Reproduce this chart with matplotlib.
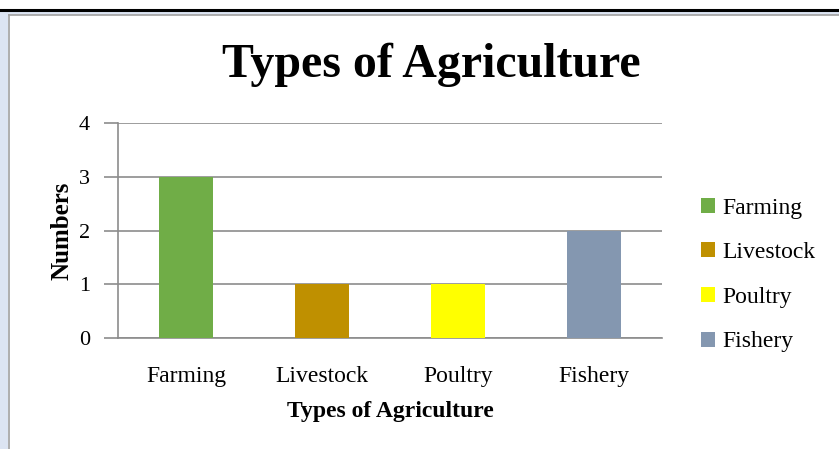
import numpy as np
from matplotlib import pyplot as plt
from matplotlib.patches import Rectangle, Patch

categories = ["Farming", "Livestock", "Poultry", "Fishery"]
values = [3, 1, 1, 2]
colors = ["#70AD47", "#BF9000", "#FFFF00", "#8497B0"]
y_ticks = [0, 1, 2, 3, 4]

plt.rcParams['font.family'] = ['Liberation Serif', 'DejaVu Serif']

fig = plt.figure(figsize=(8.39, 4.49), dpi=100)
fig.patch.set_facecolor("white")

# window frame bits around the chart
fig.patches.append(Rectangle((0, 0), 8 / 839, 1 - 12 / 449, transform=fig.transFigure,
                             facecolor="#DCE4F2", edgecolor="none", zorder=0))
fig.patches.append(Rectangle((0, 1 - 15 / 449), 1, 4 / 449, transform=fig.transFigure,
                             facecolor="#DCE4F2", edgecolor="none", zorder=0))
fig.lines.append(plt.Line2D([0, 1], [1 - 10 / 449, 1 - 10 / 449], transform=fig.transFigure,
                            color="black", lw=2.2))
fig.lines.append(plt.Line2D([9 / 839, 1], [1 - 15 / 449, 1 - 15 / 449], transform=fig.transFigure,
                            color="#A0A0A0", lw=1.2))
fig.lines.append(plt.Line2D([9 / 839, 9 / 839], [0, 1 - 15 / 449], transform=fig.transFigure,
                            color="#A0A0A0", lw=1.2))

ax = fig.add_axes([118 / 839, 111 / 449, 544 / 839, 215 / 449])
x = np.arange(len(categories))
ax.bar(x, values, width=0.4, color=colors, zorder=3)

ax.set_xlim(-0.5, len(categories) - 0.5)
ax.set_ylim(0, 4)
ax.set_yticks(y_ticks)
ax.set_yticklabels([str(v) for v in y_ticks], fontsize=16)
ax.set_xticks(x)
ax.set_xticklabels(categories, fontsize=17)
ax.tick_params(axis="x", length=0, pad=20)
ax.tick_params(axis="y", length=10, width=1.2, color="#8C8C8C", pad=10)
ax.grid(axis="y", color="#8C8C8C", lw=1.2, zorder=0)
for side in ["top", "right"]:
    ax.spines[side].set_visible(False)
ax.spines["left"].set_color("#8C8C8C")
ax.spines["left"].set_linewidth(1.2)
ax.spines["bottom"].set_color("#8C8C8C")
ax.spines["bottom"].set_linewidth(1.2)

ax.set_xlabel("Types of Agriculture", fontsize=17, fontweight="bold", labelpad=10)
ax.set_ylabel("Numbers", fontsize=18, fontweight="bold", labelpad=4)
fig.text(431 / 839, 1 - 65 / 449, "Types of Agriculture", fontsize=34.5, fontweight="bold",
         ha="center", va="center")

handles = [Patch(facecolor=c, edgecolor="none") for c in colors]
fig.legend(handles, categories, loc="center left", bbox_to_anchor=(680 / 839, 1 - 275 / 449),
           frameon=False, fontsize=17, handlelength=0.6, handleheight=0.6,
           handletextpad=0.3, labelspacing=1.0)

fig.savefig("out.png", dpi=100)
